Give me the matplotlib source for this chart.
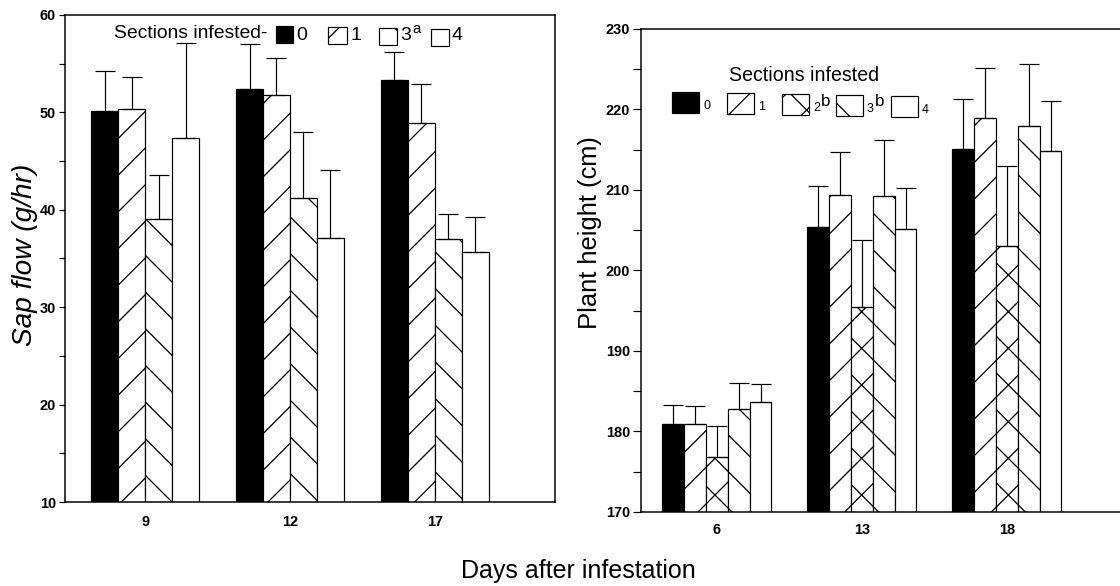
#!/usr/bin/env python3

import matplotlib
matplotlib.use('Agg')
import matplotlib.pyplot as plt
from matplotlib.patches import Rectangle
import numpy as np

# Sap flow panel (left)
sap_days = ['9', '12', '17']
sap_sections = ['0', '1', '3', '4']
sap_sup = ['', '', 'a', '']
sap_flow_0 = [50.1, 52.4, 53.3]
sap_flow_1 = [50.4, 51.8, 48.9]
sap_flow_3 = [39.1, 41.2, 37.0]
sap_flow_4 = [47.4, 37.1, 35.7]
sap_err_0 = [4.2, 4.6, 2.9]
sap_err_1 = [3.2, 3.8, 4.0]
sap_err_3 = [4.5, 6.8, 2.6]
sap_err_4 = [9.7, 7.0, 3.6]

# Plant height panel (right)
height_days = ['6', '13', '18']
height_sections = ['0', '1', '2', '3', '4']
height_sup = ['', '', 'b', 'b', '']
height_0 = [180.9, 205.4, 215.1]
height_1 = [180.9, 209.4, 219.0]
height_2 = [176.8, 195.5, 203.0]
height_3 = [182.8, 209.3, 217.9]
height_4 = [183.7, 205.2, 214.8]
height_err_0 = [2.4, 5.1, 6.2]
height_err_1 = [2.3, 5.3, 6.1]
height_err_2 = [3.9, 8.3, 10.0]
height_err_3 = [3.2, 6.9, 7.7]
height_err_4 = [2.2, 5.1, 6.3]

# everything is sized in pixels and turned into points for this dpi
DPI = 220
W, H = 1120, 586


def pt(px):
    return px * 72.0 / DPI


def fx(px):
    return px / W


def fy(py):
    return 1 - py / H


def legend_key(fig, x0, y0, x1, y1, face, hatch):
    fig.add_artist(Rectangle((fx(x0), fy(y1)), fx(x1) - fx(x0), fy(y0) - fy(y1),
                             transform=fig.transFigure, facecolor=face,
                             edgecolor='k', hatch=hatch, linewidth=pt(1.2)))


def style_axes(ax, yticks, yminor, tick_len, xpad):
    ax.set_yticks(yticks)
    ax.set_yticks(yminor, minor=True)
    ax.tick_params(axis='y', which='both', direction='out', length=tick_len,
                   width=pt(1.2), pad=pt(3), labelsize=pt(14.5))
    ax.tick_params(axis='x', length=0, pad=xpad, labelsize=pt(14.5))
    for lab in ax.get_yticklabels() + ax.get_xticklabels():
        lab.set_fontweight('bold')
    for s in ax.spines.values():
        s.set_linewidth(pt(1.5))


if __name__ == '__main__':

    plt.rcParams['font.family'] = ['Liberation Sans', 'DejaVu Sans']
    plt.rcParams['hatch.linewidth'] = pt(1.3)

    fig = plt.figure(figsize=(W / DPI, H / DPI), dpi=DPI)
    fig.patch.set_facecolor('white')

    # ---- left panel ----
    ax1 = fig.add_axes([fx(65), fy(502), fx(555) - fx(65), fy(15) - fy(502)])
    x = np.arange(len(sap_days))
    w = 27 / 145
    sap_vals = [sap_flow_0, sap_flow_1, sap_flow_3, sap_flow_4]
    sap_errs = [sap_err_0, sap_err_1, sap_err_3, sap_err_4]
    sap_faces = ['k', 'white', 'white', 'white']
    sap_hatch = [None, '//', '\\\\', None]
    for i in range(len(sap_vals)):
        pos = x + (i - 1.5) * w
        ax1.bar(pos, sap_vals[i], w, color=sap_faces[i], edgecolor='k',
                hatch=sap_hatch[i], linewidth=pt(1.2), zorder=2)
        ax1.errorbar(pos, sap_vals[i], yerr=[np.zeros(len(x)), sap_errs[i]],
                     fmt='none', ecolor='k', elinewidth=pt(1.2),
                     capsize=pt(10), capthick=pt(1.2), zorder=3)
    ax1.set_xlim(-0.552, 2.828)
    ax1.set_ylim(10, 60)
    ax1.set_xticks(x)
    ax1.set_xticklabels(sap_days)
    style_axes(ax1, range(10, 61, 10), range(15, 60, 10), pt(6), pt(13))

    # ---- right panel (its right edge runs off the page) ----
    ax2 = fig.add_axes([fx(641), fy(512), fx(1180) - fx(641), fy(29) - fy(512)])
    w2 = 21.8 / 145
    h_vals = [height_0, height_1, height_2, height_3, height_4]
    h_errs = [height_err_0, height_err_1, height_err_2, height_err_3, height_err_4]
    h_faces = ['k', 'white', 'white', 'white', 'white']
    h_hatch = [None, '//', 'xx', '\\\\', None]
    for i in range(len(h_vals)):
        pos = x + (i - 2) * w2
        ax2.bar(pos, h_vals[i], w2, color=h_faces[i], edgecolor='k',
                hatch=h_hatch[i], linewidth=pt(1.2), zorder=2)
        ax2.errorbar(pos, h_vals[i], yerr=[np.zeros(len(x)), h_errs[i]],
                     fmt='none', ecolor='k', elinewidth=pt(1.2),
                     capsize=pt(10), capthick=pt(1.2), zorder=3)
    ax2.set_xlim(-0.524, (1180 - 717) / 145)
    ax2.set_ylim(170, 230)
    ax2.set_xticks(x)
    ax2.set_xticklabels(height_days)
    style_axes(ax2, range(170, 231, 10), range(175, 230, 10), pt(8), pt(11))

    # ---- legends, drawn by hand to keep the inline layout ----
    fig.text(fx(114), fy(33), 'Sections infested-', fontsize=pt(19.3),
             ha='left', va='center')
    left_boxes = [(276, 293), (328, 347), (379, 397), (431, 449)]
    for i, (a, b) in enumerate(left_boxes):
        legend_key(fig, a, 26 + i, b, 43 + i, sap_faces[i], sap_hatch[i])
        fig.text(fx(b + 3), fy(35), sap_sections[i], fontsize=pt(19.5),
                 ha='left', va='center')
        if sap_sup[i]:
            fig.text(fx(b + 15), fy(29), sap_sup[i], fontsize=pt(15),
                     ha='left', va='center')

    fig.text(fx(729), fy(76), 'Sections infested', fontsize=pt(19.6),
             ha='left', va='center')
    right_boxes = [(672, 699), (727, 754), (782, 809), (836, 863), (891, 918)]
    for i, (a, b) in enumerate(right_boxes):
        legend_key(fig, a, 92 + i, b, 113 + i, h_faces[i], h_hatch[i])
        fig.text(fx(b + 4), fy(106 + i), height_sections[i], fontsize=pt(12.5),
                 ha='left', va='center')
        if height_sup[i]:
            fig.text(fx(b + 12), fy(99 + i), height_sup[i], fontsize=pt(17),
                     ha='left', va='center')

    # ---- axis labels ----
    fig.text(fx(25), fy(255), 'Sap flow (g/hr)', fontsize=pt(28), style='italic',
             rotation=90, ha='center', va='center')
    fig.text(fx(590), fy(233), 'Plant height (cm)', fontsize=pt(25.5),
             rotation=90, ha='center', va='center')
    fig.text(fx(578), fy(571), 'Days after infestation', fontsize=pt(25),
             ha='center', va='center')

    fig.savefig('out.png', dpi=DPI)
